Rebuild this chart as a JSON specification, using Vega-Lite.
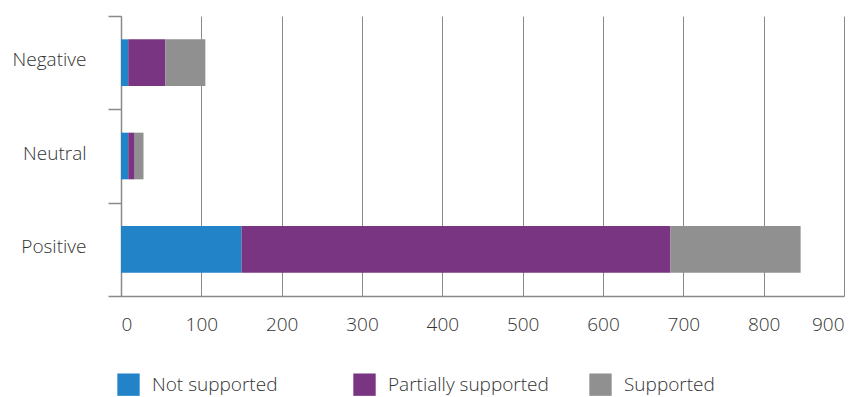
{
  "$schema": "https://vega.github.io/schema/vega-lite/v6.json",
  "width": 723,
  "height": 280,
  "autosize": "none",
  "padding": {"left": 121, "top": 16, "right": 17, "bottom": 101},
  "background": "white",
  "data": {
    "values": [
      {"sentiment": "Negative", "support": "Not supported", "k": 1, "count": 9},
      {"sentiment": "Negative", "support": "Partially supported", "k": 2, "count": 46},
      {"sentiment": "Negative", "support": "Supported", "k": 3, "count": 50},
      {"sentiment": "Neutral", "support": "Not supported", "k": 1, "count": 9},
      {"sentiment": "Neutral", "support": "Partially supported", "k": 2, "count": 8},
      {"sentiment": "Neutral", "support": "Supported", "k": 3, "count": 11},
      {"sentiment": "Positive", "support": "Not supported", "k": 1, "count": 150},
      {"sentiment": "Positive", "support": "Partially supported", "k": 2, "count": 534},
      {"sentiment": "Positive", "support": "Supported", "k": 3, "count": 162}
    ]
  },
  "mark": {"type": "bar", "height": {"band": 0.5}},
  "encoding": {
    "y": {
      "field": "sentiment",
      "type": "nominal",
      "sort": ["Negative", "Neutral", "Positive"],
      "scale": {"paddingInner": 0, "paddingOuter": 0},
      "axis": {
        "title": null,
        "tickBand": "extent",
        "tickSize": 13,
        "tickColor": "#8a8a8a",
        "tickWidth": 1.5,
        "domainColor": "#8a8a8a",
        "domainWidth": 1.5,
        "labelPadding": 22,
        "labelFont": "Open Sans",
        "labelFontWeight": 300,
        "labelFontSize": 19,
        "labelColor": "#333333",
        "labelBaseline": "middle",
        "labelOffset": -3,
        "grid": false
      }
    },
    "x": {
      "field": "count",
      "type": "quantitative",
      "stack": "zero",
      "scale": {"domain": [0, 900], "nice": false},
      "axis": {
        "title": null,
        "values": [0, 100, 200, 300, 400, 500, 600, 700, 800, 900],
        "ticks": false,
        "labelPadding": 19,
        "labelFont": "Open Sans",
        "labelFontWeight": 300,
        "labelFontSize": 19,
        "labelColor": "#333333",
        "grid": true,
        "gridColor": "#8a8a8a",
        "gridWidth": 1,
        "gridOpacity": 1,
        "domainColor": "#8a8a8a",
        "domainWidth": 1.5
      }
    },
    "color": {
      "field": "support",
      "type": "nominal",
      "scale": {
        "domain": ["Not supported", "Partially supported", "Supported"],
        "range": ["#2283c8", "#793482", "#909090"]
      },
      "legend": {
        "title": null,
        "orient": "none",
        "legendX": -4,
        "legendY": 357,
        "direction": "horizontal",
        "columns": 3,
        "gridAlign": "all",
        "columnPadding": 40,
        "symbolType": "square",
        "symbolSize": 500,
        "symbolStrokeWidth": 0,
        "symbolOpacity": 1,
        "symbolOffset": 0,
        "labelOffset": 12,
        "labelFont": "Open Sans",
        "labelFontWeight": 300,
        "labelFontSize": 19,
        "labelColor": "#333333",
        "labelLimit": 300,
        "padding": 0
      }
    },
    "order": {"field": "k", "type": "quantitative"}
  },
  "config": {"view": {"stroke": null}}
}
